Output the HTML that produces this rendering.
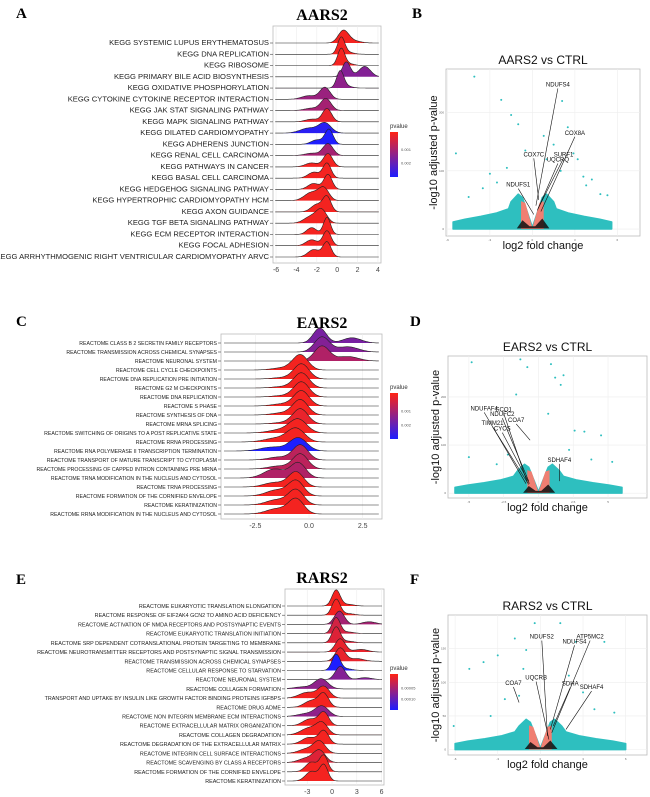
<!DOCTYPE html>
<html><head><meta charset="utf-8">
<style>
body{margin:0;background:#fff;}
svg{display:block;font-family:"Liberation Sans",Arial,sans-serif;}
.pl{font-family:"Liberation Serif",serif;font-weight:bold;font-size:15px;}
.tt{font-family:"Liberation Serif",serif;font-weight:bold;font-size:16px;}
</style></head><body>
<svg id="fig" width="650" height="797" viewBox="0 0 650 797">
<text class="pl" x="16" y="18">A</text>
<text class="pl" x="412" y="18">B</text>
<text class="pl" x="16" y="326">C</text>
<text class="pl" x="410" y="326">D</text>
<text class="pl" x="16" y="584">E</text>
<text class="pl" x="410" y="584">F</text>
<text class="tt" x="322" y="20" text-anchor="middle">AARS2</text>
<text class="tt" x="322" y="328" text-anchor="middle">EARS2</text>
<text class="tt" x="322" y="583" text-anchor="middle">RARS2</text>
</svg>
<script>
// ---------- DATA ----------
const aLabels=["KEGG SYSTEMIC LUPUS ERYTHEMATOSUS","KEGG DNA REPLICATION","KEGG RIBOSOME","KEGG PRIMARY BILE ACID BIOSYNTHESIS","KEGG OXIDATIVE PHOSPHORYLATION","KEGG CYTOKINE CYTOKINE RECEPTOR INTERACTION","KEGG JAK STAT SIGNALING PATHWAY","KEGG MAPK SIGNALING PATHWAY","KEGG DILATED CARDIOMYOPATHY","KEGG ADHERENS JUNCTION","KEGG RENAL CELL CARCINOMA","KEGG PATHWAYS IN CANCER","KEGG BASAL CELL CARCINOMA","KEGG HEDGEHOG SIGNALING PATHWAY","KEGG HYPERTROPHIC CARDIOMYOPATHY HCM","KEGG AXON GUIDANCE","KEGG TGF BETA SIGNALING PATHWAY","KEGG ECM RECEPTOR INTERACTION","KEGG FOCAL ADHESION","KEGG ARRHYTHMOGENIC RIGHT VENTRICULAR CARDIOMYOPATHY ARVC"];
const aPeak=[0.6,0.4,0.4,0.9,0.3,-1.2,-1.1,-1.0,-1.2,-0.8,-0.9,-0.9,-1.0,-0.9,-1.3,-1.0,-1.5,-1.0,-1.0,-1.0];
const aSd=[0.5,0.35,0.35,0.4,0.35,0.5,0.5,0.45,0.6,0.4,0.5,0.45,0.4,0.4,0.5,0.4,0.5,0.35,0.4,0.4];
const aShPos=[1.5,1.2,1.2,2.7,1.0,-2.8,-2.5,-2.5,-2.8,-2.0,-2.5,-2.5,-2.3,-2.3,-2.5,-2.0,-2.5,-2.5,-2.5,-2.3];
const aShH=[0.2,0.1,0.1,0.7,0.1,0.3,0.2,0.2,0.5,0.3,0.2,0.3,0.4,0.4,0.7,0.5,0.6,0.4,0.4,0.5];
const aCol=[0.05,0.05,0.05,0.55,0.5,0.45,0.4,0.1,0.95,1.0,0.4,0.05,0.05,0.05,0.05,0.05,0.05,0.05,0.05,0.05];
const aTicks=[-6,-4,-2,0,2,4];

const cLabels=["REACTOME CLASS B 2 SECRETIN FAMILY RECEPTORS","REACTOME TRANSMISSION ACROSS CHEMICAL SYNAPSES","REACTOME NEURONAL SYSTEM","REACTOME CELL CYCLE CHECKPOINTS","REACTOME DNA REPLICATION PRE INITIATION","REACTOME G2 M CHECKPOINTS","REACTOME DNA REPLICATION","REACTOME S PHASE","REACTOME SYNTHESIS OF DNA","REACTOME MRNA SPLICING","REACTOME SWITCHING OF ORIGINS TO A POST REPLICATIVE STATE","REACTOME RRNA PROCESSING","REACTOME RNA POLYMERASE II TRANSCRIPTION TERMINATION","REACTOME TRANSPORT OF MATURE TRANSCRIPT TO CYTOPLASM","REACTOME PROCESSING OF CAPPED INTRON CONTAINING PRE MRNA","REACTOME TRNA MODIFICATION IN THE NUCLEUS AND CYTOSOL","REACTOME TRNA PROCESSING","REACTOME FORMATION OF THE CORNIFIED ENVELOPE","REACTOME KERATINIZATION","REACTOME RRNA MODIFICATION IN THE NUCLEUS AND CYTOSOL"];
const cPeak=[0.5,0.6,0.6,-0.4,-0.35,-0.35,-0.35,-0.35,-0.4,-0.4,-0.5,-0.6,-0.5,-0.4,-0.4,-0.5,-0.6,-0.6,-0.6,-0.6];
const cSd=[0.3,0.35,0.35,0.35,0.35,0.35,0.35,0.35,0.35,0.35,0.4,0.4,0.4,0.35,0.35,0.35,0.35,0.35,0.35,0.35];
const cShPos=[2.0,1.8,1.8,-1.2,-1.2,-1.2,-1.2,-1.2,-1.2,-1.2,-1.3,-1.5,-1.7,-1.4,-1.4,-1.6,-1.6,-1.5,-1.5,-1.5];
const cShH=[0.35,0.35,0.3,0.15,0.1,0.1,0.1,0.15,0.15,0.1,0.25,0.3,0.3,0.2,0.2,0.6,0.3,0.4,0.35,0.35];
const cCol=[0.6,0.55,0.35,0.05,0.05,0.05,0.05,0.05,0.05,0.1,0.05,0.05,1.0,0.3,0.3,0.35,0.05,0.05,0.05,0.05];
const cTicks=[-2.5,0,2.5];
const cTickLabels=["-2.5","0.0","2.5"];

const eLabels=["REACTOME EUKARYOTIC TRANSLATION ELONGATION","REACTOME RESPONSE OF EIF2AK4 GCN2 TO AMINO ACID DEFICIENCY","REACTOME ACTIVATION OF NMDA RECEPTORS AND POSTSYNAPTIC EVENTS","REACTOME EUKARYOTIC TRANSLATION INITIATION","REACTOME SRP DEPENDENT COTRANSLATIONAL PROTEIN TARGETING TO MEMBRANE","REACTOME NEUROTRANSMITTER RECEPTORS AND POSTSYNAPTIC SIGNAL TRANSMISSION","REACTOME TRANSMISSION ACROSS CHEMICAL SYNAPSES","REACTOME CELLULAR RESPONSE TO STARVATION","REACTOME NEURONAL SYSTEM","REACTOME COLLAGEN FORMATION","TRANSPORT AND UPTAKE BY INSULIN LIKE GROWTH FACTOR BINDING PROTEINS IGFBPS","REACTOME DRUG ADME","REACTOME NON INTEGRIN MEMBRANE ECM INTERACTIONS","REACTOME EXTRACELLULAR MATRIX ORGANIZATION","REACTOME COLLAGEN DEGRADATION","REACTOME DEGRADATION OF THE EXTRACELLULAR MATRIX","REACTOME INTEGRIN CELL SURFACE INTERACTIONS","REACTOME SCAVENGING BY CLASS A RECEPTORS","REACTOME FORMATION OF THE CORNIFIED ENVELOPE","REACTOME KERATINIZATION"];
const ePeak=[0.5,0.5,0.9,0.5,0.5,1.0,1.0,0.5,1.0,-1.3,-1.0,-1.0,-1.2,-1.0,-1.2,-1.0,-1.5,-1.5,-1.0,-1.0];
const eSd=[0.5,0.5,0.6,0.5,0.5,0.6,0.6,0.5,0.6,0.8,0.7,0.6,0.8,0.6,0.7,0.6,0.7,0.7,0.5,0.5];
const eShPos=[2.0,2.0,4.5,2.0,2.0,3.5,3.0,1.8,4.0,-3.5,-3.0,-2.5,-3.0,-2.7,-2.8,-2.8,-3.0,-3.0,-2.5,-2.5];
const eShH=[0.1,0.1,0.2,0.1,0.1,0.2,0.2,0.1,0.15,0.2,0.5,0.5,0.3,0.5,0.6,0.5,0.4,0.4,0.6,0.6];
const eCol=[0.05,0.05,0.4,0.2,0.15,0.1,0.1,1.0,0.55,0.5,0.05,0.05,0.5,0.05,0.05,0.05,0.05,0.15,0.05,0.05];
const eTicks=[-3,0,3,6];

const bOutX=[-4.1,-2.2,-5.4,-1.5,-1.0,2.1,2.5,0.8,1.5,3.2,-0.5,2.9,4.8,5.3,-3.5,1.0,3.6,-1.8,-2.5,-3.0,2.0,3.8,-4.5,4.2];
const bOutY=[262,222,130,196,180,220,175,160,145,120,135,130,60,58,70,120,90,105,80,95,100,75,55,85];
const bGenes=["NDUFS4","COX8A","COX7C","SURF1","UQCRQ","NDUFS1"];
const bGx=[0.25,0.6,0.45,0.4,0.35,0.1];const bGy=[40,30,50,35,32,25];
const bLx=[1.8,3.0,0.1,2.2,1.8,-1.0];const bLy=[245,162,125,125,116,73];

const dOutX=[-4.8,-1.3,-0.8,0.9,1.8,-1.6,1.2,1.6,2.6,4.5,-5.0,3.3,5.3,0.7,-3.0,-2.2,2.2,3.8];
const dOutY=[272,278,262,268,245,205,240,225,130,120,75,128,65,165,60,80,90,70];
const dGenes=["NDUFAF4","SCO1","NDUFC2","COA7","TIMM21","CYCS","SDHAF4"];
const dGx=[-0.9,-0.8,-0.7,-0.6,-0.7,-0.65,1.5];const dGy=[20,22,25,110,18,20,25];
const dLx=[-3.9,-2.5,-2.6,-1.6,-3.3,-2.6,1.5];const dLy=[172,170,160,148,142,130,65];

const fOutX=[-0.4,1.4,-1.8,-3.0,-4.0,-5.0,-6.1,-1.0,-1.2,2.5,4.5,5.2,-1.5,2.0,-2.5,3.0,-3.5,3.8];
const fOutY=[188,188,165,140,130,120,35,148,120,160,160,55,80,110,75,85,50,60];
const fGenes=["NDUFS2","ATP5MC2","NDUFS4","UQCRB","COA7","SDHA","SDHAF4"];
const fGx=[0.5,0.8,0.7,0.6,-1.5,0.9,1.8];const fGy=[20,25,30,15,70,35,30];
const fLx=[0.1,3.5,2.4,-0.3,-1.9,2.1,3.6];const fLy=[165,165,158,104,96,95,90];

// ---------- HELPERS ----------
const NS="http://www.w3.org/2000/svg";const svg=document.getElementById('fig');
function mk(t,a,p){const e=document.createElementNS(NS,t);for(const k in a)e.setAttribute(k,a[k]);(p||svg).appendChild(e);return e;}
function col(t){const r=Math.round(255-t*225),g=Math.round(35-t*5),b=Math.round(20+t*235);return `rgb(${r},${g},${b})`;}

function ridge(o){
  const g=mk('g',{});
  mk('rect',{x:o.x0,y:o.y0,width:o.x1-o.x0,height:o.y1-o.y0,fill:'#fff',stroke:'#bbb','stroke-width':0.8},g);
  const sx=v=>o.x0+(v-o.dmin)/(o.dmax-o.dmin)*(o.x1-o.x0);
  o.ticks.forEach((t,i)=>{const x=sx(t);mk('line',{x1:x,x2:x,y1:o.y0,y2:o.y1,stroke:'#ececec','stroke-width':0.6},g);
    const tx=mk('text',{x:x,y:o.y1+9,'font-size':7,'text-anchor':'middle',fill:'#444'},g);tx.textContent=o.tickLabels?o.tickLabels[i]:t;
    });
  const n=o.labels.length;
  for(let i=0;i<n;i++){
    const yb=o.r0+i*(o.r1-o.r0)/(n-1);
    const tx=mk('text',{x:o.x0-4,y:yb+2,'font-size':o.fs,'text-anchor':'end',fill:'#222'},g);tx.textContent=o.labels[i];
    
    mk('line',{x1:o.x0-3,x2:o.x0,y1:yb,y2:yb,stroke:'#444','stroke-width':0.6},g);
  }
  for(let i=0;i<n;i++){
    const yb=o.r0+i*(o.r1-o.r0)/(n-1);
    const hs=o.hpx*Math.min(1,o.sref/o.sd[i]);
    let d=`M${o.x0+3},${yb}`;const pts=[];
    for(let k=0;k<=120;k++){const v=o.dmin+(o.dmax-o.dmin)*(0.02+0.96*k/120);
      const h=Math.exp(-0.5*((v-o.peak[i])/o.sd[i])**2)+o.shH[i]*Math.exp(-0.5*((v-o.shPos[i])/(o.sd[i]*1.4))**2);
      pts.push([sx(v),yb-h*hs]);}
    pts.forEach(p=>d+=`L${p[0].toFixed(1)},${p[1].toFixed(1)}`);
    const fill=d+`L${pts[pts.length-1][0]},${yb}Z`;
    const f=mk('path',{d:fill,fill:col(o.col[i]),stroke:'none'},g);
    
    mk('path',{d:d,fill:'none',stroke:'#222','stroke-width':0.6},g);
  }
  const lg=mk('g',{},g);
  const tt=mk('text',{x:o.lx,y:o.ly,'font-size':6,fill:'#333'},lg);tt.textContent='pvalue';
  const gid='grad'+o.name;const df=mk('defs',{},lg);const lgd=mk('linearGradient',{id:gid,x1:0,y1:0,x2:0,y2:1},df);
  mk('stop',{offset:'0%','stop-color':col(0)},lgd);mk('stop',{offset:'50%','stop-color':col(0.5)},lgd);mk('stop',{offset:'100%','stop-color':col(1)},lgd);
  mk('rect',{x:o.lx,y:o.ly+4,width:8,height:o.lh,fill:`url(#${gid})`},lg);
  o.legT.forEach((t,i)=>{const y=o.ly+4+o.lh*(0.38+0.3*i);const e=mk('text',{x:o.lx+11,y:y+2,'font-size':4,fill:'#555'},lg);e.textContent=t;});
}

function volcano(o){
  const g=mk('g',{});
  const sx=v=>o.x0+(v-o.xmin)/(o.xmax-o.xmin)*(o.x1-o.x0);
  const sy=v=>o.y1-(v-o.ymin)/(o.ymax-o.ymin)*(o.y1-o.y0);
  mk('rect',{x:o.x0,y:o.y0,width:o.x1-o.x0,height:o.y1-o.y0,fill:'#fff',stroke:'#bbb','stroke-width':0.8},g);
  o.xt.forEach(t=>{mk('line',{x1:sx(t),x2:sx(t),y1:o.y0,y2:o.y1,stroke:'#eee','stroke-width':0.6},g);
    const e=mk('text',{x:sx(t),y:o.y1+5,'font-size':3,'text-anchor':'middle',fill:'#666'},g);e.textContent=t;});
  o.yt.forEach(t=>{mk('line',{x1:o.x0,x2:o.x1,y1:sy(t),y2:sy(t),stroke:'#eee','stroke-width':0.6},g);
    const e=mk('text',{x:o.x0-2,y:sy(t)+1,'font-size':3,'text-anchor':'end',fill:'#666'},g);e.textContent=t;});
  const W=o.w,H=o.h;
  // envelope: wide fan rising toward centre
  const up=[[-W,0.2],[-W*0.85,0.28],[-W*0.65,0.36],[-W*0.45,0.46],[-W*0.3,0.58],[-1.5,0.78],[-1.0,1.0],[-0.7,0.9],[0,0.05],[0.7,0.9],[1.0,1.0],[1.5,0.78],[W*0.3,0.58],[W*0.45,0.46],[W*0.65,0.36],[W*0.85,0.28],[W,0.2]];
  let cl=`M${sx(-W)},${sy(0)}`;
  up.forEach(p=>cl+=` L${sx(p[0]).toFixed(1)},${sy(p[1]*H).toFixed(1)}`);
  cl+=` L${sx(W)},${sy(0)} Z`;
  const c=mk('path',{d:cl,fill:'#2ebfbf',stroke:'#2ebfbf','stroke-width':1.5,'stroke-linejoin':'round'},g);
  const s=mk('path',{d:`M${sx(-0.8)},${sy(0)} L${sx(-0.8)},${sy(H*0.8)} L${sx(-0.5)},${sy(H*0.75)} L${sx(0)},${sy(2)} L${sx(0.5)},${sy(H*0.75)} L${sx(0.8)},${sy(H*0.8)} L${sx(0.8)},${sy(0)}Z`,fill:'#f07f72'},g);
  
  mk('path',{d:`M${sx(-1.1)},${sy(1)} L${sx(-0.7)},${sy(H*0.25)} L${sx(-0.2)},${sy(H*0.08)} L${sx(0.2)},${sy(H*0.08)} L${sx(0.7)},${sy(H*0.3)} L${sx(1.2)},${sy(1)} Z`,fill:'#111',opacity:0.85},g);
  o.ox.forEach((v,i)=>{const p=mk('circle',{cx:sx(v),cy:sy(o.oy[i]),r:1,fill:'#2ebfbf'},g);
    });
  o.genes.forEach((n,i)=>{mk('line',{x1:sx(o.gx[i]),y1:sy(o.gy[i]),x2:sx(o.lx[i]),y2:sy(o.ly[i])+2,stroke:'#111','stroke-width':0.6},g);
    const e=mk('text',{x:sx(o.lx[i]),y:sy(o.ly[i]),'font-size':6,'text-anchor':'middle',fill:'#111'},g);e.textContent=n;
    });
  const t=mk('text',{x:(o.x0+o.x1)/2,y:o.y0-5,'font-size':12,'text-anchor':'middle',fill:'#111'},g);t.textContent=o.title;
  
  const xl=mk('text',{x:(o.x0+o.x1)/2,y:o.y1+13,'font-size':11,'text-anchor':'middle',fill:'#111'},g);xl.textContent='log2 fold change';
  
  const cy=(o.y0+o.y1)/2;const yl=mk('text',{x:o.x0-9,y:cy,'font-size':11,'text-anchor':'middle',fill:'#111',transform:`rotate(-90 ${o.x0-9} ${cy})`},g);yl.textContent='-log10 adjusted p-value';
  
}

ridge({name:'ridge-aars2',labels:aLabels,peak:aPeak,sd:aSd,shPos:aShPos,shH:aShH,col:aCol,ticks:aTicks,sref:0.35,
  x0:273,x1:381,y0:26,y1:263,dmin:-6.3,dmax:4.3,r0:43,r1:257,fs:7.6,hpx:17,lx:390,ly:128,lh:45,legT:['0.001','0.002']});
ridge({name:'ridge-ears2',labels:cLabels,peak:cPeak,sd:cSd,shPos:cShPos,shH:cShH,col:cCol,ticks:cTicks,tickLabels:cTickLabels,sref:0.35,
  x0:221,x1:382,y0:334,y1:519,dmin:-4.1,dmax:3.4,r0:343,r1:514,fs:5.2,hpx:15,lx:390,ly:389,lh:46,legT:['0.001','0.002']});
ridge({name:'ridge-rars2',labels:eLabels,peak:ePeak,sd:eSd,shPos:eShPos,shH:eShH,col:eCol,ticks:eTicks,sref:0.5,
  x0:285,x1:384,y0:589,y1:785,dmin:-5.7,dmax:6.3,r0:606,r1:781,fs:5.4,hpx:16,lx:390,ly:670,lh:36,legT:['0.00005','0.00010']});

volcano({name:'volcano-aars2',title:'AARS2 vs CTRL',x0:446,x1:640,y0:69,y1:236,xmin:-6.1,xmax:7.6,ymin:-12,ymax:275,
  xt:[-6,-3,0,3,6],yt:[0,100,200],w:5.6,h:60,ox:bOutX,oy:bOutY,genes:bGenes,gx:bGx,gy:bGy,lx:bLx,ly:bLy});
volcano({name:'volcano-ears2',title:'EARS2 vs CTRL',x0:448,x1:647,y0:356,y1:498,xmin:-6.5,xmax:7.8,ymin:-10,ymax:285,
  xt:[-5,-2.5,0,2.5,5],yt:[0,100,200],w:6,h:60,ox:dOutX,oy:dOutY,genes:dGenes,gx:dGx,gy:dGy,lx:dLx,ly:dLy});
volcano({name:'volcano-rars2',title:'RARS2 vs CTRL',x0:448,x1:647,y0:615,y1:755,xmin:-6.5,xmax:7.5,ymin:-8,ymax:200,
  xt:[-6,-3,0,3,6],yt:[0,50,100,150],w:6,h:45,ox:fOutX,oy:fOutY,genes:fGenes,gx:fGx,gy:fGy,lx:fLx,ly:fLy});
</script>
</body></html>
